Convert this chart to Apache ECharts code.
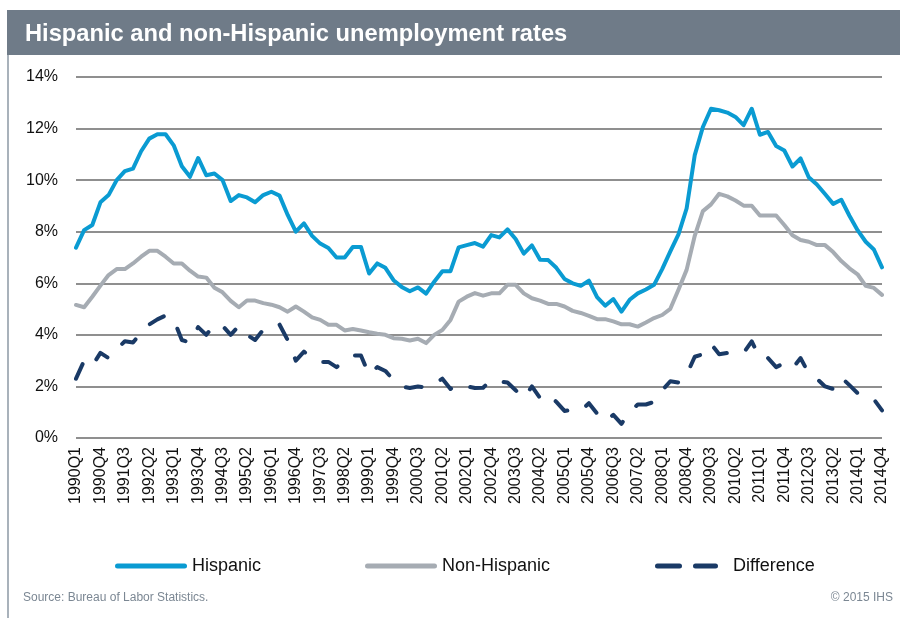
<!DOCTYPE html>
<html>
<head>
<meta charset="utf-8">
<title>Hispanic and non-Hispanic unemployment rates</title>
<script src="https://cdn.jsdelivr.net/npm/echarts@6/dist/echarts.min.js"></script>
<style>
  html, body { margin: 0; padding: 0; background: #ffffff; }
  #chart { width: 900px; height: 618px; }
</style>
</head>
<body>
<div id="chart"></div>
<script>
// Quarterly unemployment rates, 1990Q1 - 2014Q4 (percent)
const firstYear = 1990;
const lastYear = 2014;
const quarters = [];
for (let y = firstYear; y <= lastYear; y++) {
  for (let q = 1; q <= 4; q++) quarters.push(y + 'Q' + q);
}

const hispanic = [
  7.38, 8.06, 8.26, 9.14, 9.42, 10.0, 10.35, 10.45, 11.12, 11.61,
  11.78, 11.78, 11.35, 10.54, 10.13, 10.86, 10.19, 10.26, 10.0, 9.19,
  9.42, 9.33, 9.14, 9.42, 9.55, 9.40, 8.65, 8.0, 8.32, 7.84,
  7.54, 7.37, 7.0, 7.0, 7.41, 7.41, 6.38, 6.77, 6.60, 6.12,
  5.86, 5.69, 5.84, 5.60, 6.06, 6.47, 6.47, 7.39, 7.48, 7.56,
  7.42, 7.87, 7.78, 8.09, 7.72, 7.15, 7.47, 6.91, 6.90, 6.60,
  6.17, 6.0, 5.90, 6.10, 5.46, 5.13, 5.39, 4.90, 5.36, 5.61,
  5.76, 5.94, 6.55, 7.24, 7.90, 8.90, 10.97, 12.06, 12.77, 12.71,
  12.62, 12.45, 12.13, 12.77, 11.76, 11.87, 11.32, 11.15, 10.53, 10.84,
  10.11, 9.83, 9.46, 9.08, 9.24, 8.62, 8.06, 7.61, 7.31, 6.62
];

const nonHispanic = [
  5.16, 5.07, 5.48, 5.91, 6.32, 6.55, 6.55, 6.77, 7.03, 7.26,
  7.26, 7.03, 6.77, 6.77, 6.49, 6.26, 6.22, 5.83, 5.65, 5.32,
  5.07, 5.33, 5.33, 5.23, 5.17, 5.07, 4.90, 5.10, 4.90, 4.68,
  4.58, 4.39, 4.39, 4.17, 4.23, 4.17, 4.10, 4.04, 4.0, 3.87,
  3.85, 3.78, 3.85, 3.68, 4.0, 4.19, 4.58, 5.29, 5.48, 5.62,
  5.52, 5.61, 5.61, 5.94, 5.94, 5.61, 5.42, 5.33, 5.20, 5.20,
  5.10, 4.93, 4.85, 4.74, 4.61, 4.61, 4.52, 4.41, 4.41, 4.32,
  4.48, 4.65, 4.77, 5.01, 5.75, 6.52, 7.84, 8.80, 9.06, 9.47,
  9.37, 9.21, 9.01, 9.01, 8.63, 8.63, 8.63, 8.26, 7.86, 7.68,
  7.61, 7.48, 7.48, 7.21, 6.86, 6.58, 6.35, 5.90, 5.82, 5.55
];

const difference = [
  2.3, 3.0, 2.8, 3.3, 3.1, 3.45, 3.75, 3.7, 4.1, 4.4,
  4.6, 4.75, 4.6, 3.8, 3.7, 4.3, 4.0, 4.4, 4.35, 4.0,
  4.35, 4.0, 3.8, 4.2, 4.4, 4.4, 3.8, 3.0, 3.35, 3.1,
  2.95, 2.95, 2.75, 3.0, 3.2, 3.2, 2.45, 2.75, 2.6, 2.25,
  2.0, 1.94, 2.0, 1.95, 2.1, 2.3, 1.9, 2.1, 2.0, 1.94,
  1.95, 2.26, 2.2, 2.15, 1.85, 1.55, 2.0, 1.55, 1.7, 1.4,
  1.05, 1.1, 1.05, 1.35, 0.95, 0.65, 0.9, 0.55, 1.0, 1.3,
  1.3, 1.4, 1.85, 2.2, 2.15, 2.45, 3.15, 3.25, 3.65, 3.25,
  3.3, 3.25, 3.3, 3.75, 3.1, 3.1, 2.75, 2.9, 2.7, 3.1,
  2.5, 2.3, 2.0, 1.9, 2.35, 2.05, 1.74, 1.7, 1.5, 1.07
];

const yTicks = { min: 0, max: 14, step: 2 };

const FONT = "'Liberation Sans', Arial, sans-serif";
const colors = { hispanic: '#0a9bd2', nonHispanic: '#a6acb3', difference: '#1a3a66' };

// legend swatches: a solid bar, and two dashes for the difference line
const solidIcon = 'path://M2.5,0H69.5A2.5,2.5,0,0,1,69.5,5H2.5A2.5,2.5,0,0,1,2.5,0Z';
const dashedIcon = 'path://M2.5,0H24.5A2.5,2.5,0,0,1,24.5,5H2.5A2.5,2.5,0,0,1,2.5,0Z M40.5,0H60.5A2.5,2.5,0,0,1,60.5,5H40.5A2.5,2.5,0,0,1,40.5,0Z';

const chart = echarts.init(document.getElementById('chart'), null, { renderer: 'canvas' });

function legendFor(name, left, width, icon, textPad) {
  return {
    data: [{ name: name, icon: icon }],
    left: left,
    top: 552,
    itemWidth: width,
    itemHeight: 5,
    textStyle: { fontFamily: FONT, fontSize: 18, color: '#111', padding: [0, 0, 0, textPad] },
    selectedMode: false
  };
}

chart.setOption({
  backgroundColor: '#ffffff',
  animation: false,
  textStyle: { fontFamily: FONT },
  graphic: [
    { type: 'rect', shape: { x: 7, y: 10, width: 893, height: 45 }, style: { fill: '#6f7b88' }, silent: true },
    { type: 'line', shape: { x1: 8, y1: 55, x2: 8, y2: 618 }, style: { stroke: '#8d98a4', lineWidth: 1.5 }, silent: true },
    { type: 'text', x: 25, y: 34, style: { text: 'Hispanic and non-Hispanic unemployment rates', fill: '#ffffff', font: 'bold 23.7px ' + FONT, verticalAlign: 'middle', align: 'left' }, silent: true },
    { type: 'text', x: 23, y: 598, style: { text: 'Source: Bureau of Labor Statistics.', fill: '#7b8793', font: '12px ' + FONT, verticalAlign: 'middle', align: 'left' }, silent: true },
    { type: 'text', x: 893, y: 598, style: { text: '\u00a9 2015 IHS', fill: '#7b8793', font: '12px ' + FONT, verticalAlign: 'middle', align: 'right' }, silent: true }
  ],
  legend: [
    legendFor('Hispanic', 110, 72, solidIcon, 0),
    legendFor('Non-Hispanic', 360, 72, solidIcon, 0),
    legendFor('Difference', 650, 63, dashedIcon, 10)
  ],
  grid: { left: 76, right: 18, top: 77, bottom: 180, containLabel: false },
  xAxis: {
    type: 'category',
    data: quarters,
    boundaryGap: false,
    axisLine: { show: false },
    axisTick: { show: false },
    axisLabel: { interval: 2, rotate: 90, margin: 9, fontSize: 16, color: '#111', fontFamily: FONT }
  },
  yAxis: {
    type: 'value',
    min: yTicks.min,
    max: yTicks.max,
    interval: yTicks.step,
    axisLine: { show: false },
    axisTick: { show: false },
    axisLabel: { formatter: '{value}%', fontSize: 16, color: '#111', margin: 18, fontFamily: FONT },
    splitLine: { lineStyle: { color: '#8f8f8f', width: 2 } }
  },
  series: [
    {
      name: 'Hispanic', type: 'line', data: hispanic, symbol: 'none', showSymbol: false,
      lineStyle: { color: colors.hispanic, width: 4, join: 'round', cap: 'round' },
      itemStyle: { color: colors.hispanic }, z: 4
    },
    {
      name: 'Non-Hispanic', type: 'line', data: nonHispanic, symbol: 'none', showSymbol: false,
      lineStyle: { color: colors.nonHispanic, width: 4, join: 'round', cap: 'round' },
      itemStyle: { color: colors.nonHispanic }, z: 3
    },
    {
      name: 'Difference', type: 'line', data: difference, symbol: 'none', showSymbol: false,
      lineStyle: { color: colors.difference, width: 4, type: [16, 21], join: 'round', cap: 'round' },
      itemStyle: { color: colors.difference }, z: 3
    }
  ]
});
</script>
</body>
</html>
